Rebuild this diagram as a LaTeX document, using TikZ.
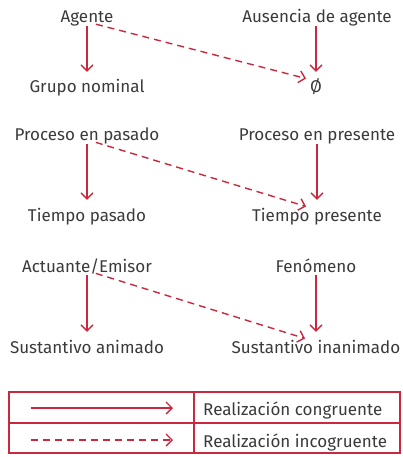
\documentclass[tikz,border=0pt]{standalone}
\usepackage{fontspec}
\setmainfont{Fira Sans}
\usetikzlibrary{arrows.meta,calc}
\definecolor{ared}{HTML}{C9283E}
\definecolor{atext}{HTML}{3A3A3A}
\tikzset{
  lbl/.style={inner sep=0pt, text height=14pt, text depth=0pt, text=atext, font=\fontsize{17}{19}\selectfont},
  arr/.style={draw=ared, line width=1.4pt, -{Straight Barb[length=6pt,width=12pt]}},
  darr/.style={arr, dash pattern=on 7pt off 5pt},
  leg/.style={draw=ared, line width=1.4pt}
}
\begin{document}
\begin{tikzpicture}[x=1pt,y=-1pt]
\useasboundingbox (0,0) rectangle (403,457);
% row 1
\node[lbl] (a1) at (87,16) {Agente};
\node[lbl] (b1) at (317,16) {Ausencia de agente};
\node[lbl] (c1) at (87,86) {Grupo nominal};
\node[lbl] (d1) at (316,86) {Ø};
% row 2
\node[lbl] (a2) at (87,134) {Proceso en pasado};
\node[lbl] (b2) at (317,134) {Proceso en presente};
\node[lbl] (c2) at (87,214) {Tiempo pasado};
\node[lbl] (d2) at (317,214) {Tiempo presente};
% row 3
\node[lbl] (a3) at (87,265) {Actuante/Emisor};
\node[lbl] (b3) at (316,265) {Fenómeno};
\node[lbl] (c3) at (87,346) {Sustantivo animado};
\node[lbl] (d3) at (316,346) {Sustantivo inanimado};
\foreach \r in {1,2,3}{
  \draw[arr, shorten <=3pt, shorten >=7pt] (a\r.south) -- (a\r.south |- c\r.north);
  \draw[arr, shorten <=3pt, shorten >=7pt] (b\r.south -| d\r.north) -- (d\r.north);
  \draw[darr, shorten <=4pt, shorten >=1pt] ($(a\r.south)+(5,0)$) -- ($(d\r.north -| b\r.south)+(-10,0)$);
}
% legend
\draw[leg] (9,392) rectangle (400,453);
\draw[leg] (9,423) -- (400,423);
\draw[leg] (194,392) -- (194,453);
\coordinate (s1) at (31,408);
\coordinate (s2) at (173,408);
\coordinate (t1) at (31,440);
\coordinate (t2) at (173,440);
\draw[arr] (s1) -- (s2);
\draw[darr] (t1) -- (t2);
\node[lbl, anchor=west] (l1) at (203,408) {Realización congruente};
\node[lbl, anchor=west] (l2) at (203,440) {Realización incogruente};
\end{tikzpicture}
\end{document}
